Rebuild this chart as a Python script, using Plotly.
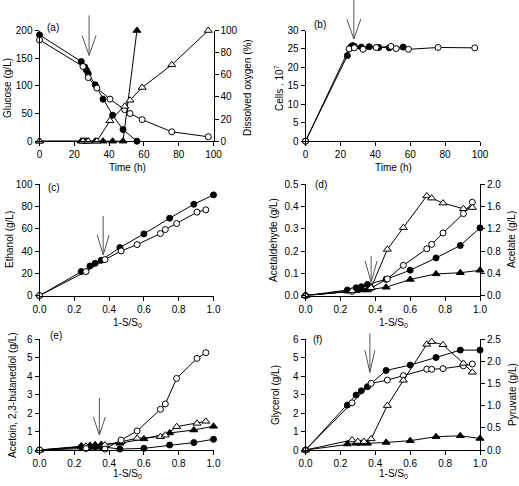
import plotly.graph_objects as go

# ---------------- data ----------------
# panels (a), (b): time courses (h)
t_filled = [0, 24, 26, 27, 28, 32, 36.5, 42, 48, 56]
t_open = [0, 25, 28, 33, 40.5, 49, 52, 59, 76, 97]
glucose_filled = [192, 144, 134, 128, 122, 102, 76, 47, 21, 0]
glucose_open = [183, 135, 115, 96, 76, 57, 50, 39, 17, 8]
oxygen_filled = [0, 0, 0, 0, 0, 0, 0, 0, 0, 100]
oxygen_open = [0, 0, 0, 0, 18.5, 31.5, 37, 48.5, 69, 100]
cells_filled = [0, 23.2, 25.6, 25.9, 25.7, 25.5, 25.6, 25.4, 25.3, 25.5]
cells_open = [0, 25.0, 25.3, 24.9, 25.4, 25.7, 25.1, 24.9, 25.4, 25.3]

# panels (c)-(f): versus 1-S/S0
conv_filled = [0, 0.24, 0.29, 0.32, 0.355, 0.462, 0.60, 0.748, 0.887, 1.0]
conv_open = [0, 0.267, 0.376, 0.469, 0.561, 0.695, 0.723, 0.788, 0.905, 0.956]
ethanol_filled = [0, 21.6, 26.6, 29, 31.7, 43.1, 55.4, 69.5, 82, 90.4]
ethanol_open = [0, 21.6, 32.3, 40.1, 45.8, 55.7, 59.3, 64.7, 74.9, 77]
acetaldehyde_filled = [0, 0.025, 0.035, 0.04, 0.05, 0.073, 0.114, 0.169, 0.225, 0.304]
acetaldehyde_open = [0, 0.019, 0.034, 0.075, 0.136, 0.21, 0.23, 0.281, 0.368, 0.419]
acetate_filled = [0, 0.08, 0.09, 0.10, 0.10, 0.15, 0.29, 0.39, 0.41, 0.455]
acetate_open = [0, 0.084, 0.14, 0.83, 1.22, 1.79, 1.75, 1.66, 1.56, 1.58]
butanediol_filled = [0, 0.15, 0.17, 0.18, 0.18, 0.05, 0.09, 0.27, 0.40, 0.58]
acetoin_filled = [0, 0.22, 0.25, 0.28, 0.30, 0.36, 0.60, 0.92, 1.08, 1.28]
butanediol_open = [0, 0.08, 0.05, 0.54, 1.03, 2.2, 2.49, 3.87, 4.95, 5.26]
acetoin_open = [0, 0.2, 0.27, 0.45, 0.63, 0.72, 0.8, 1.26, 1.44, 1.55]
glycerol_filled = [0, 2.43, 2.97, 3.2, 3.42, 4.3, 4.59, 5.0, 5.4, 5.4]
glycerol_open = [0, 2.55, 3.6, 3.78, 4.02, 4.37, 4.36, 4.4, 4.55, 4.65]
pyruvate_filled = [0, 0.135, 0.15, 0.15, 0.15, 0.17, 0.21, 0.30, 0.32, 0.26]
conv_pyruvate_open = [0, 0.267, 0.30, 0.335, 0.376, 0.469, 0.561, 0.695, 0.723, 0.788, 0.905, 0.956]
pyruvate_open = [0, 0.225, 0.19, 0.19, 0.25, 1.0, 1.57, 2.38, 2.44, 2.37, 1.95, 1.75]

# arrow (shift to aerobic) positions in data units: (x, y at tip)
arrows = {
    "a": (28.5, 155), "b": (27.7, 27.7), "c": (0.366, 36.5),
    "d": (0.376, 0.061), "e": (0.344, 0.81), "f": (0.369, 4.2),
}

# ---------------- styling ----------------
FONT = "Liberation Sans, Arial, sans-serif"
MK = {
    "fc": dict(symbol="circle", size=6, color="black", line=dict(color="black", width=1)),
    "oc": dict(symbol="circle", size=6, color="white", line=dict(color="black", width=1)),
    "ft": dict(symbol="triangle-up", size=7, color="black", line=dict(color="black", width=1)),
    "ot": dict(symbol="triangle-up", size=7, color="white", line=dict(color="black", width=1)),
}

fig = go.Figure()


def add(x, y, kind, xa, ya, name):
    fig.add_trace(go.Scatter(
        x=x, y=y, mode="lines+markers", name=name, xaxis=xa, yaxis=ya,
        line=dict(color="black", width=1), marker=MK[kind], cliponaxis=False,
        showlegend=False))


# (a)
add(t_filled, oxygen_filled, "ft", "x", "y7", "DO filled")
add(t_open, oxygen_open, "ot", "x", "y7", "DO open")
add(t_filled, glucose_filled, "fc", "x", "y", "Glucose filled")
add(t_open, glucose_open, "oc", "x", "y", "Glucose open")
# (b)
add(t_filled, cells_filled, "fc", "x2", "y2", "Cells filled")
add(t_open, cells_open, "oc", "x2", "y2", "Cells open")
# (c)
add(conv_filled, ethanol_filled, "fc", "x3", "y3", "Ethanol filled")
add(conv_open, ethanol_open, "oc", "x3", "y3", "Ethanol open")
# (d)
add(conv_filled, acetate_filled, "ft", "x4", "y8", "Acetate filled")
add(conv_open, acetate_open, "ot", "x4", "y8", "Acetate open")
add(conv_filled, acetaldehyde_filled, "fc", "x4", "y4", "Acetaldehyde filled")
add(conv_open, acetaldehyde_open, "oc", "x4", "y4", "Acetaldehyde open")
# (e)
add(conv_filled, butanediol_filled, "fc", "x5", "y5", "2,3-butanediol filled")
add(conv_filled, acetoin_filled, "ft", "x5", "y5", "Acetoin filled")
add(conv_open, acetoin_open, "ot", "x5", "y5", "Acetoin open")
add(conv_open, butanediol_open, "oc", "x5", "y5", "2,3-butanediol open")
# (f)
add(conv_filled, pyruvate_filled, "ft", "x6", "y9", "Pyruvate filled")
add(conv_pyruvate_open, pyruvate_open, "ot", "x6", "y9", "Pyruvate open")
add(conv_filled, glycerol_filled, "fc", "x6", "y6", "Glycerol filled")
add(conv_open, glycerol_open, "oc", "x6", "y6", "Glycerol open")

W, H = 519, 486


def px(v):
    return v / W


def py(v):
    return 1 - v / H


colx = [[px(39.5), px(213.5)], [px(305.5), px(480)]]
rowy = [[py(141.2), py(30.5)], [py(295.6), py(184.2)], [py(450), py(339)]]

base = dict(showgrid=False, zeroline=False, showline=True, linecolor="black", linewidth=1,
            ticks="outside", ticklen=4, tickcolor="black", tickwidth=1, automargin=False,
            tickfont=dict(family=FONT, size=10, color="black"))


def xax(col, rng, dtick, fmt, anchor):
    d = dict(base, domain=colx[col], range=rng, dtick=dtick, tick0=0, anchor=anchor)
    if fmt:
        d["tickformat"] = fmt
    return d


def yax(row, rng, dtick, fmt, anchor, side="left", overlay=None):
    d = dict(base, range=rng, dtick=dtick, tick0=0, anchor=anchor, side=side)
    if overlay:
        d["overlaying"] = overlay
    else:
        d["domain"] = rowy[row]
    if fmt:
        d["tickformat"] = fmt
    return d


ranges = {
    "x": [0, 100], "y": [0, 200], "x2": [0, 100], "y2": [0, 30],
    "x3": [0, 1], "y3": [0, 100], "x4": [0, 1], "y4": [0, 0.5],
    "x5": [0, 1], "y5": [0, 6], "x6": [0, 1], "y6": [0, 6],
}

fig.update_layout(
    template="none",
    width=W, height=H, margin=dict(l=0, r=0, t=0, b=0, pad=0, autoexpand=False),
    plot_bgcolor="white", paper_bgcolor="white", showlegend=False,
    font=dict(family=FONT, size=10, color="black"),
    xaxis=xax(0, ranges["x"], 20, None, "y"),
    yaxis=yax(0, ranges["y"], 50, None, "x"),
    yaxis7=yax(0, [0, 100], 20, None, "x", side="right", overlay="y"),
    xaxis2=xax(1, ranges["x2"], 20, None, "y2"),
    yaxis2=yax(0, ranges["y2"], 5, None, "x2"),
    xaxis3=xax(0, ranges["x3"], 0.2, ".1f", "y3"),
    yaxis3=yax(1, ranges["y3"], 20, None, "x3"),
    xaxis4=xax(1, ranges["x4"], 0.2, ".1f", "y4"),
    yaxis4=yax(1, ranges["y4"], 0.1, ".1f", "x4"),
    yaxis8=yax(1, [0, 2.0], 0.4, ".1f", "x4", side="right", overlay="y4"),
    xaxis5=xax(0, ranges["x5"], 0.2, ".1f", "y5"),
    yaxis5=yax(2, ranges["y5"], 1, None, "x5"),
    xaxis6=xax(1, ranges["x6"], 0.2, ".1f", "y6"),
    yaxis6=yax(2, ranges["y6"], 1, None, "x6"),
    yaxis9=yax(2, [0, 2.5], 0.5, ".1f", "x6", side="right", overlay="y6"),
)

ann = []
# axis titles (positions in page pixels)
titles = [
    ("Glucose (g/L)", 7, 88, -90), ("Dissolved oxygen (%)", 247, 88, -90),
    ("Time (h)", 127, 167, 0), ("Time (h)", 393, 167, 0),
    ("Cells . 10<sup>7</sup>", 279, 88, -90),
    ("Ethanol (g/L)", 9, 240, -90), ("Acetaldehyde (g/L)", 273, 240, -90),
    ("Acetate (g/L)", 511, 240, -90),
    ("1-S/S<sub>0</sub>", 127, 323, 0), ("1-S/S<sub>0</sub>", 393, 323, 0),
    ("Acetoin, 2,3-butanediol (g/L)", 12, 395, -90), ("Glycerol (g/L)", 275, 395, -90),
    ("Pyruvate (g/L)", 512, 395, -90),
    ("1-S/S<sub>0</sub>", 127, 474, 0), ("1-S/S<sub>0</sub>", 393, 474, 0),
]
for txt, x, y, ang in titles:
    ann.append(dict(text=txt, x=px(x), y=py(y), xref="paper", yref="paper",
                    showarrow=False, textangle=ang, xanchor="center", yanchor="middle",
                    font=dict(family=FONT, size=10, color="black")))

# panel labels
labels = [("(a)", "x", "y", 0.078, 1.03), ("(b)", "x2", "y2", 0.083, 1.05),
          ("(c)", "x3", "y3", 0.083, 0.97), ("(d)", "x4", "y4", 0.087, 1.0),
          ("(e)", "x5", "y5", 0.093, 1.03), ("(f)", "x6", "y6", 0.068, 1.0)]
for txt, xa, ya, dx, dy in labels:
    ann.append(dict(text=txt, x=dx, y=dy, xref=xa + " domain", yref=ya + " domain",
                    showarrow=False, xanchor="center", yanchor="middle",
                    font=dict(family=FONT, size=10, color="black")))
fig.update_layout(annotations=ann)

# arrows drawn as shapes: (axes, length px, head length px, half width px)
arrow_geo = {"a": ("x", "y", 40, 20, 7), "b": ("x2", "y2", 39, 20, 7),
             "c": ("x3", "y3", 39, 20, 6), "d": ("x4", "y4", 26, 21, 6),
             "e": ("x5", "y5", 37, 18, 6), "f": ("x6", "y6", 39, 22, 5)}
for k, (xv, yv) in arrows.items():
    xa, ya, L, hl, hw = arrow_geo[k]
    xr, yr = ranges[xa], ranges[ya]
    fx = (xv - xr[0]) / (xr[1] - xr[0])
    fy = (yv - yr[0]) / (yr[1] - yr[0])
    path = f"M0,{L} L0,0 M{-hw},{hl} L0,0 L{hw},{hl}"
    fig.add_shape(type="path", path=path, xref=xa + " domain", yref=ya + " domain",
                  xsizemode="pixel", ysizemode="pixel", xanchor=fx, yanchor=fy,
                  line=dict(color="#555", width=1), layer="above")

# remove the browser's default 8px body margin so the figure fills the window
fig.write_html("out.html",
               config={"displayModeBar": False, "staticPlot": True},
               post_script="document.body.style.margin='0';document.body.style.overflow='hidden';")
